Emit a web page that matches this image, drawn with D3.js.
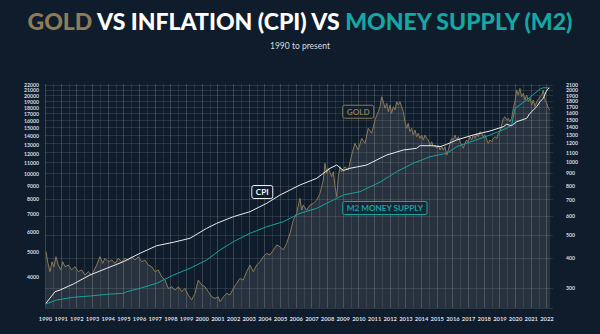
<!DOCTYPE html>
<html><head><meta charset="utf-8">
<script src="https://cdn.jsdelivr.net/npm/d3@7"></script>
<style>
html,body{margin:0;padding:0;background:#0f1c2b;}
svg{display:block;}
</style></head>
<body>
<svg id="chart" width="600" height="334"></svg>
<script>
// ---- DATA ----
const yearTicks = d3.range(1990, 2023);
const leftTicks = [4000,5000,6000,7000,8000,9000,10000,11000,12000,13000,14000,15000,16000,17000,18000,19000,20000,21000,22000];
const rightTicks = [300,400,500,600,700,800,900,1000,1100,1200,1300,1400,1500,1600,1700,1800,1900,2000,2100];

const goldT = [1990.06,1990.19,1990.32,1990.45,1990.57,1990.70,1990.85,1991.00,1991.13,1991.28,
1991.49,1991.70,1991.91,1992.13,1992.34,1992.55,1992.76,1992.98,1993.30,1993.51,
1993.68,1993.83,1994.04,1994.26,1994.47,1994.68,1994.89,1995.11,1995.32,1995.53,
1995.74,1995.95,1996.17,1996.38,1996.59,1996.81,1997.02,1997.23,1997.45,1997.66,
1997.87,1998.09,1998.30,1998.51,1998.72,1998.93,1999.14,1999.36,1999.57,1999.78,
2000.00,2000.21,2000.42,2000.64,2000.85,2001.06,2001.17,2001.38,2001.60,2001.81,
2002.02,2002.23,2002.44,2002.65,2002.87,2003.08,2003.29,2003.51,2003.72,2003.93,
2004.15,2004.36,2004.57,2004.79,2005.00,2005.21,2005.42,2005.64,2005.85,2006.06,
2006.27,2006.38,2006.48,2006.70,2006.91,2007.12,2007.34,2007.55,2007.76,2007.87,
2007.98,2008.08,2008.30,2008.40,2008.51,2008.62,2008.72,2008.83,2008.93,2009.14,
2009.36,2009.57,2009.78,2009.99,2010.21,2010.42,2010.63,2010.85,2011.06,2011.27,
2011.38,2011.49,2011.59,2011.70,2011.81,2011.91,2012.02,2012.12,2012.23,2012.34,
2012.44,2012.55,2012.65,2012.76,2012.87,2012.97,2013.08,2013.18,2013.29,2013.40,
2013.50,2013.61,2013.72,2013.82,2013.93,2014.04,2014.14,2014.25,2014.36,2014.46,
2014.57,2014.68,2014.78,2014.89,2015.00,2015.10,2015.21,2015.32,2015.42,2015.53,
2015.64,2015.74,2015.85,2015.95,2016.06,2016.16,2016.27,2016.38,2016.48,2016.59,
2016.70,2016.80,2016.91,2017.01,2017.12,2017.23,2017.33,2017.44,2017.55,2017.65,
2017.76,2017.87,2017.97,2018.08,2018.19,2018.29,2018.40,2018.51,2018.61,2018.72,
2018.83,2018.93,2019.04,2019.14,2019.25,2019.36,2019.46,2019.57,2019.67,2019.78,
2019.89,2019.99,2020.10,2020.21,2020.31,2020.42,2020.53,2020.63,2020.74,2020.85,
2020.95,2021.06,2021.16,2021.27,2021.38,2021.59,2021.70,2021.80,2021.91,2022.02,
2022.12,2022.23];
const goldV = [424,379,350,385,367,404,373,356,385,367,
373,356,367,350,356,339,350,339,373,404,
379,398,385,391,379,398,385,398,391,404,
391,404,385,391,373,367,350,356,333,323,
298,303,293,303,289,298,280,267,284,323,
308,303,289,275,271,275,262,275,284,280,
298,313,328,323,350,373,350,373,385,404,
417,411,431,452,445,431,459,506,574,613,
708,632,663,632,663,674,696,742,843,990,
899,944,871,913,791,718,871,958,913,958,
928,1072,1199,1125,1258,1199,1385,1320,1500,1624,
1704,1876,1788,1678,1761,1624,1732,1600,1704,1651,
1788,1732,1788,1704,1624,1476,1385,1453,1341,1385,
1299,1363,1278,1320,1258,1299,1238,1299,1258,1238,
1180,1218,1161,1180,1143,1180,1125,1161,1125,1161,
1072,1125,1199,1258,1238,1299,1238,1278,1218,1180,
1143,1199,1238,1218,1278,1238,1299,1258,1320,1278,
1341,1320,1278,1299,1238,1199,1238,1218,1258,1278,
1258,1320,1341,1430,1525,1548,1500,1525,1476,1525,
1678,1788,2000,1907,2033,1876,1938,1817,1907,1788,
1847,1732,1817,1704,1788,1876,1907,2000,1817,1761,
1678,1651];

const m2T = [1990.06,1990.75,1991.81,1992.87,1993.94,1995.00,1995.21,1996.06,1997.13,1998.19,
1999.25,2000.32,2001.17,2002.02,2003.08,2004.15,2005.21,2006.27,2007.34,2008.40,
2009.04,2010.10,2011.38,2012.44,2013.50,2014.57,2015.64,2016.27,2017.33,2018.40,
2019.46,2019.78,2020.00,2020.74,2021.59,2021.80,2022.23];
const m2V = [3157,3271,3350,3389,3440,3471,3520,3628,3793,4082,
4332,4663,5095,5484,5908,6264,6548,7054,7374,7937,
8297,8544,9300,10201,10989,11651,12008,12732,13391,14123,
14987,15432,17895,19260,21234,21481,21423];

const cpiT = [1990.06,1990.64,1990.96,1991.81,1992.87,1993.94,1995.00,1996.06,1997.13,1998.19,
1999.25,2000.32,2000.96,2002.02,2003.08,2004.15,2005.00,2006.27,2007.34,2008.19,
2008.62,2009.04,2009.46,2009.89,2010.53,2011.38,2011.81,2012.87,2013.72,2013.93,
2014.78,2015.21,2015.64,2016.27,2017.33,2018.40,2019.25,2019.46,2019.78,2020.10,
2020.74,2020.95,2021.38,2021.59,2021.80,2022.00,2022.16];
const cpiV = [3176,3520,3574,3769,4082,4332,4593,4948,5293,5455,
5652,6176,6456,6845,7156,7708,8297,9066,9621,10513,
10825,10310,10513,10634,10825,11488,11828,12364,12552,12845,
12845,12732,13006,13510,14123,14632,15201,15528,15337,15890,
16377,17119,18150,18972,19554,20861,21423];

const seriesLabels = [
  {text:"GOLD", t:2009.0, v:1624, axis:"right", color:"#8d7c57"},
  {text:"CPI", t:2003.2, v:8520, axis:"left", color:"#f2f2f2"},
  {text:"M2 MONEY SUPPLY", t:2009.0, v:7394, axis:"left", color:"#17a6a2"}
];

// ---- LAYOUT ----
const W = 600, H = 334;
const plot = {left:45, right:553, top:84, bottom:308};
const BG = "#0f1c2b";
const FONT = "Lato, 'Open Sans', sans-serif";

const svg = d3.select("#chart");
svg.append("rect").attr("width", W).attr("height", H).attr("fill", BG);

const x = d3.scaleLinear().domain([1990, 2022.42]).range([plot.left, plot.right]);
const yL = d3.scaleLog().domain([3047, 22196]).range([plot.bottom, plot.top]);
const yR = d3.scaleLog().domain([247, 2119]).range([plot.bottom, plot.top]);

const gold = goldT.map((t,i)=>({t, v:goldV[i]}));
const m2 = m2T.map((t,i)=>({t, v:m2V[i]}));
const cpi = cpiT.map((t,i)=>({t, v:cpiV[i]}));

// gold area
svg.append("path").datum(gold)
  .attr("d", d3.area().x(d=>x(d.t)).y0(plot.bottom).y1(d=>yR(d.v)))
  .attr("fill", "rgba(200,200,190,0.13)");

// grid
const grid = svg.append("g");
const halfYears = d3.range(1990, 2022.5, 0.5).filter(t => x(t) <= plot.right + 0.5);
grid.selectAll("line.v").data(halfYears).join("line")
  .attr("x1", d=>Math.round(x(d))+0.5).attr("x2", d=>Math.round(x(d))+0.5)
  .attr("y1", plot.top).attr("y2", plot.bottom)
  .attr("stroke", d => (d % 1 === 0) ? "rgba(255,255,255,0.17)" : "rgba(255,255,255,0.09)")
  .attr("stroke-width", 1);
grid.selectAll("line.h").data(rightTicks).join("line")
  .attr("x1", plot.left).attr("x2", plot.right)
  .attr("y1", d=>Math.round(yR(d))+0.5).attr("y2", d=>Math.round(yR(d))+0.5)
  .attr("stroke", "rgba(255,255,255,0.11)").attr("stroke-width", 1);
grid.append("line").attr("x1", plot.left).attr("x2", plot.right)
  .attr("y1", plot.bottom+0.5).attr("y2", plot.bottom+0.5)
  .attr("stroke", "rgba(255,255,255,0.12)");

// lines
const lineL = d3.line().x(d=>x(d.t)).y(d=>yL(d.v));
const lineR = d3.line().x(d=>x(d.t)).y(d=>yR(d.v));
svg.append("path").datum(gold).attr("d", lineR).attr("fill","none")
  .attr("stroke","#8a7a55").attr("stroke-width",1).attr("stroke-linejoin","round");
svg.append("path").datum(m2).attr("d", lineL).attr("fill","none")
  .attr("stroke","#16a3a0").attr("stroke-width",1);
svg.append("path").datum(cpi).attr("d", lineL).attr("fill","none")
  .attr("stroke","#ececec").attr("stroke-width",1);

// axes
function styleAxis(size){
  return g => {
    g.select(".domain").remove();
    g.selectAll(".tick line").remove();
    g.selectAll("text").attr("fill","#d9dee4").style("font-family", FONT)
      .style("font-size", size).style("font-weight","700");
  };
}
svg.append("g").attr("transform",`translate(${plot.left},0)`)
  .call(d3.axisLeft(yL).tickValues(leftTicks).tickFormat(d3.format("d")).tickSize(0).tickPadding(6))
  .call(styleAxis("5.2px"));
svg.append("g").attr("transform",`translate(${plot.right},0)`)
  .call(d3.axisRight(yR).tickValues(rightTicks).tickFormat(d3.format("d")).tickSize(0).tickPadding(13))
  .call(styleAxis("5.2px"));
svg.append("g").attr("transform",`translate(0,${plot.bottom})`)
  .call(d3.axisBottom(x).tickValues(yearTicks).tickFormat(d3.format("d")).tickSize(0).tickPadding(9))
  .call(styleAxis("5.8px"));

// series labels
seriesLabels.forEach(l => {
  const px = x(l.t);
  const py = l.axis === "right" ? yR(l.v) : yL(l.v);
  const g = svg.append("g");
  const txt = g.append("text").attr("x", px + 4).attr("y", py).attr("dy","0.36em")
    .attr("fill", l.color).style("font-family", FONT).style("font-weight","700")
    .style("font-size","8.2px").text(l.text);
  const w = txt.node().getComputedTextLength();
  g.insert("rect","text").attr("x", px).attr("y", py - 6.5).attr("width", w + 8).attr("height", 13)
    .attr("rx", 2).attr("fill","rgba(15,28,43,0.55)").attr("stroke", l.color).attr("stroke-width",1);
});

// title
const title = svg.append("text").attr("x", W/2).attr("y", 29.5).attr("text-anchor","middle")
  .style("font-family", FONT).style("font-weight","900").style("font-size","21px");
title.append("tspan").attr("fill","#8d7c57").text("GOLD");
title.append("tspan").attr("fill","#ffffff").text(" VS INFLATION (CPI) VS ");
title.append("tspan").attr("fill","#14a7a3").text("MONEY SUPPLY (M2)");
const tl = title.node().getComputedTextLength();
title.style("font-size", (21 * 545 / tl).toFixed(2) + "px");

svg.append("text").attr("x", W/2).attr("y", 49).attr("text-anchor","middle")
  .attr("fill","#d6dade").style("font-family", FONT).style("font-size","8.5px")
  .text("1990 to present");
</script>
</body></html>
